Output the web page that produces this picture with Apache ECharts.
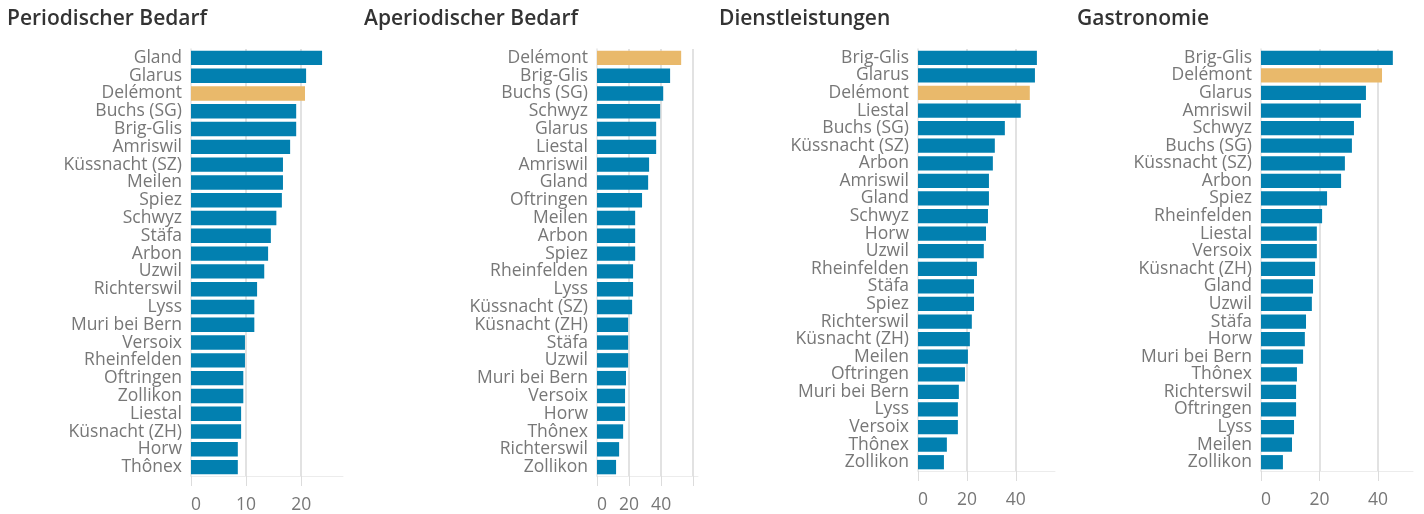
<!DOCTYPE html>
<html>
<head>
<meta charset="utf-8">
<title>Bedarf</title>
<script src="https://cdn.jsdelivr.net/npm/echarts@6/dist/echarts.min.js"></script>
<style>
    html, body { margin: 0; padding: 0; background: #fff; }
    #main { width: 1424px; height: 514px; }
</style>
</head>
<body>
<div id="main"></div>
<script>
// Werte
var highlight = 'Delémont';

var periodischNamen = ['Gland', 'Glarus', 'Delémont', 'Buchs (SG)', 'Brig-Glis', 'Amriswil', 'Küssnacht (SZ)', 'Meilen',
    'Spiez', 'Schwyz', 'Stäfa', 'Arbon', 'Uzwil', 'Richterswil', 'Lyss', 'Muri bei Bern', 'Versoix', 'Rheinfelden',
    'Oftringen', 'Zollikon', 'Liestal', 'Küsnacht (ZH)', 'Horw', 'Thônex'];
var periodischWerte = [23.8, 20.9, 20.7, 19.1, 19.1, 18.0, 16.7, 16.7, 16.5, 15.5, 14.5, 14.0,
    13.3, 12.0, 11.5, 11.5, 9.8, 9.8, 9.5, 9.5, 9.1, 9.1, 8.5, 8.5];

var aperiodischNamen = ['Delémont', 'Brig-Glis', 'Buchs (SG)', 'Schwyz', 'Glarus', 'Liestal', 'Amriswil', 'Gland',
    'Oftringen', 'Meilen', 'Arbon', 'Spiez', 'Rheinfelden', 'Lyss', 'Küssnacht (SZ)', 'Küsnacht (ZH)', 'Stäfa',
    'Uzwil', 'Muri bei Bern', 'Versoix', 'Horw', 'Thônex', 'Richterswil', 'Zollikon'];
var aperiodischWerte = [52.5, 45.6, 41.3, 39.4, 36.9, 36.9, 32.5, 31.9, 28.1, 23.8, 23.8, 23.8,
    22.5, 22.5, 21.9, 19.4, 19.4, 19.4, 18.1, 17.5, 17.5, 16.3, 13.8, 11.9];

var dienstNamen = ['Brig-Glis', 'Glarus', 'Delémont', 'Liestal', 'Buchs (SG)', 'Küssnacht (SZ)', 'Arbon', 'Amriswil',
    'Gland', 'Schwyz', 'Horw', 'Uzwil', 'Rheinfelden', 'Stäfa', 'Spiez', 'Richterswil', 'Küsnacht (ZH)', 'Meilen',
    'Oftringen', 'Muri bei Bern', 'Lyss', 'Versoix', 'Thônex', 'Zollikon'];
var dienstWerte = [48.6, 47.8, 45.7, 42.0, 35.5, 31.4, 30.6, 29.0, 29.0, 28.6, 27.8, 26.9,
    24.1, 22.9, 22.9, 22.0, 21.2, 20.4, 19.2, 16.7, 16.3, 16.3, 11.8, 10.6];

var gastroNamen = ['Brig-Glis', 'Delémont', 'Glarus', 'Amriswil', 'Schwyz', 'Buchs (SG)', 'Küssnacht (SZ)', 'Arbon',
    'Spiez', 'Rheinfelden', 'Liestal', 'Versoix', 'Küsnacht (ZH)', 'Gland', 'Uzwil', 'Stäfa', 'Horw',
    'Muri bei Bern', 'Thônex', 'Richterswil', 'Oftringen', 'Lyss', 'Meilen', 'Zollikon'];
var gastroWerte = [45.1, 41.4, 35.9, 34.2, 31.8, 31.1, 28.7, 27.4, 22.6, 20.9, 19.1, 19.1,
    18.5, 17.8, 17.4, 15.4, 15.0, 14.4, 12.3, 12.0, 12.0, 11.3, 10.6, 7.5];

var titel = ['Periodischer Bedarf', 'Aperiodischer Bedarf', 'Dienstleistungen', 'Gastronomie'];
var tickLabels = [[0, 10, 20], [0, 20, 40], [0, 20, 40], [0, 20, 40]];

var FONT = 'Open Sans';
var BLUE = '#0280b0';
var ORANGE = '#e9b96b';

var panels = [
    { names: periodischNamen, values: periodischWerte, left: 191, width: 152, bottom: 36, max: 27.6, interval: 10, titleLeft: 7 },
    { names: aperiodischNamen, values: aperiodischWerte, left: 597, width: 101, bottom: 38, max: 63, interval: 20, titleLeft: 364 },
    { names: dienstNamen, values: dienstWerte, left: 918, width: 137, bottom: 43, max: 56, interval: 20, titleLeft: 719 },
    { names: gastroNamen, values: gastroWerte, left: 1261, width: 152, bottom: 43, max: 52, interval: 20, titleLeft: 1077 }
];

var chart = echarts.init(document.getElementById('main'));

var option = {
    animation: false,
    title: [],
    grid: [],
    xAxis: [],
    yAxis: [],
    series: []
};

panels.forEach(function (p, i) {
    option.title.push({
        text: titel[i],
        left: p.titleLeft,
        top: 9,
        padding: 0,
        textStyle: { fontFamily: FONT, fontSize: 21, fontWeight: 600, color: '#333' }
    });
    option.grid.push({
        left: p.left,
        width: p.width,
        top: 49,
        bottom: p.bottom,
        containLabel: false
    });
    option.xAxis.push({
        type: 'value',
        gridIndex: i,
        min: 0,
        max: p.max,
        interval: p.interval,
        axisLine: { show: true, lineStyle: { color: '#ececec', width: 1 } },
        axisTick: { show: true, length: 10, lineStyle: { color: '#dcdcdc' } },
        splitLine: { show: true, showMinLine: false, showMaxLine: false, lineStyle: { color: '#d9d9d9', width: 1.5 } },
        axisLabel: {
            fontFamily: FONT,
            fontSize: 17.5,
            color: '#777',
            margin: 20,
            showMaxLabel: false,
            alignMinLabel: 'left',
            formatter: function (v) {
                return tickLabels[i].indexOf(v) >= 0 ? String(v) : '';
            }
        }
    });
    option.yAxis.push({
        type: 'category',
        gridIndex: i,
        inverse: true,
        data: p.names,
        axisLine: { show: true, lineStyle: { color: '#e6e6e6', width: 1.5 } },
        axisTick: { show: false },
        axisLabel: { fontFamily: FONT, fontSize: 17.5, color: '#777', margin: 9, interval: 0 }
    });
    option.series.push({
        type: 'bar',
        xAxisIndex: i,
        yAxisIndex: i,
        barCategoryGap: '19%',
        data: p.values.map(function (v, k) {
            return {
                value: v,
                itemStyle: { color: p.names[k] === highlight ? ORANGE : BLUE }
            };
        })
    });
});

chart.setOption(option);
</script>
</body>
</html>
